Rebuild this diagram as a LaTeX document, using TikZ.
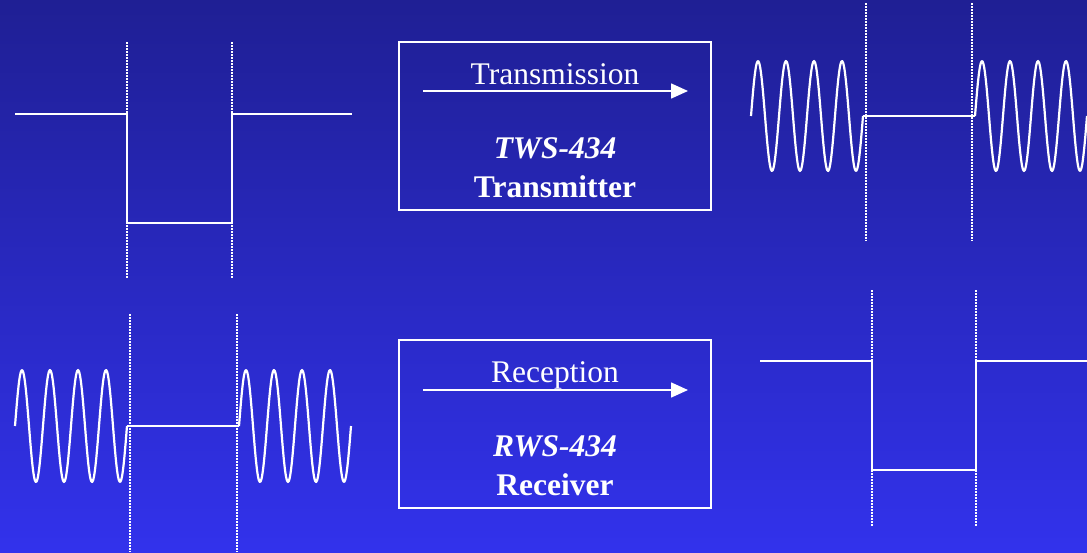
\documentclass[tikz,border=0pt]{standalone}
\usepackage{fontspec}
\setmainfont{Liberation Serif}
\usetikzlibrary{arrows.meta}
\definecolor{bgtop}{RGB}{31,31,148}
\definecolor{bgbot}{RGB}{50,50,236}
\tikzset{
  wave/.style={white, line width=2.2pt, line join=miter},
  sig/.style={white, line width=2.2pt, smooth, line join=round},
  guide/.style={white, line width=1.6pt, dash pattern=on 1.5pt off 1.5pt},
  frame/.style={draw=white, line width=2pt, minimum width=312pt, minimum height=168pt, inner sep=0pt},
  txt/.style={text=white, font=\fontsize{31.5}{36}\selectfont, anchor=base, inner sep=0pt},
  flow/.style={white, line width=1.6pt, -{Triangle[length=17pt,width=15pt]}}
}
\begin{document}
\begin{tikzpicture}[x=1pt,y=-1pt]
\shade[top color=bgtop, bottom color=bgbot] (0pt,0pt) rectangle (1087pt,-552pt);
\useasboundingbox (0pt,0pt) rectangle (1087pt,-552pt);

% ---- top-left square pulse
\draw[guide] (127,42) -- (127,278);
\draw[guide] (232,42) -- (232,278);
\draw[wave] (15,114) -- (127,114) -- (127,223) -- (232,223) -- (232,114) -- (352,114);

% ---- transmitter box
\node[frame] (tx) at (555,126) {};
\coordinate (txa) at (423,91);
\coordinate (txb) at (688,91);
\draw[flow] (txa) -- (txb);
\node[txt] (txl) at (555,84) {Transmission};
\node[txt] (txm) at (555,158) {\textbf{\textit{TWS-434}}};
\node[txt] (txn) at (555,197) {\textbf{Transmitter}};

% ---- top-right modulated signal
\draw[guide] (866,3) -- (866,241);
\draw[guide] (972,3) -- (972,241);
\draw[sig] plot[domain=0:112, samples=120] ({751+\x},{116-55*sin(\x*12.857143)});
\draw[wave] (863,116) -- (975,116);
\draw[sig] plot[domain=0:112, samples=120] ({975+\x},{116-55*sin(\x*12.857143)});

% ---- bottom-left modulated signal
\draw[guide] (130,314) -- (130,552);
\draw[guide] (237,314) -- (237,552);
\draw[sig] plot[domain=0:112, samples=120] ({15+\x},{426-56*sin(\x*12.857143)});
\draw[wave] (127,426) -- (239,426);
\draw[sig] plot[domain=0:112, samples=120] ({239+\x},{426-56*sin(\x*12.857143)});

% ---- receiver box
\node[frame] (rx) at (555,424) {};
\coordinate (rxa) at (423,390);
\coordinate (rxb) at (688,390);
\draw[flow] (rxa) -- (rxb);
\node[txt] (rxl) at (555,382) {Reception};
\node[txt] (rxm) at (555,456) {\textbf{\textit{RWS-434}}};
\node[txt] (rxn) at (555,495) {\textbf{Receiver}};

% ---- bottom-right square pulse
\draw[guide] (872,290) -- (872,527);
\draw[guide] (976,290) -- (976,527);
\draw[wave] (760,361) -- (872,361) -- (872,470) -- (976,470) -- (976,361) -- (1087,361);
\end{tikzpicture}
\end{document}
